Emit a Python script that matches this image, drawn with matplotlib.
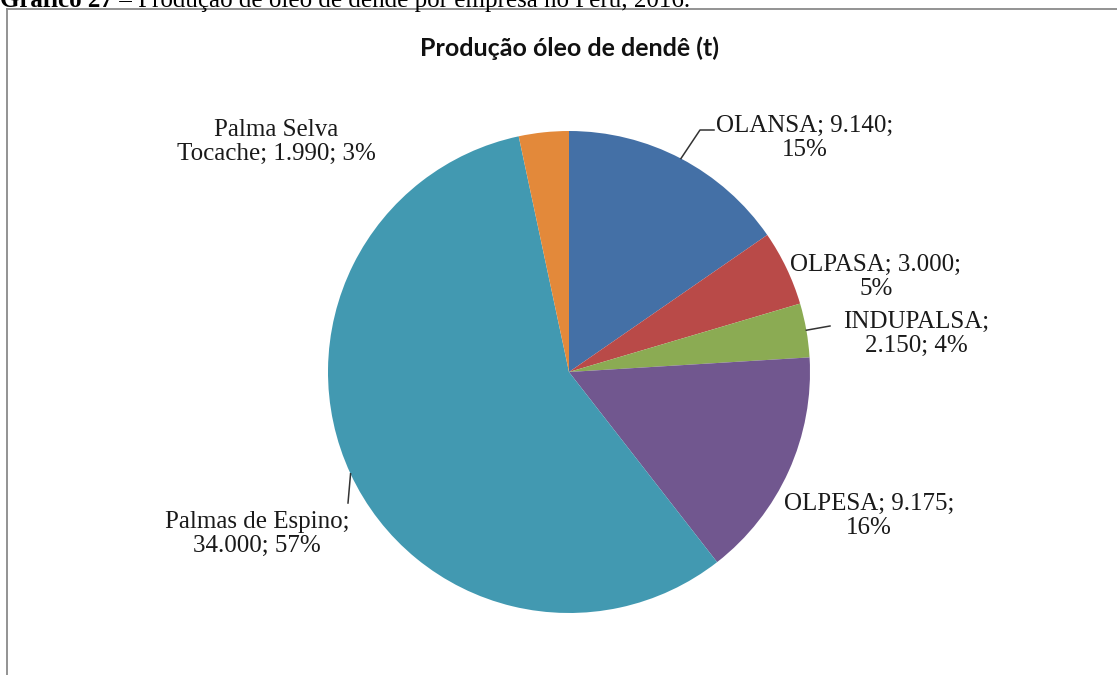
import numpy as np
import matplotlib
matplotlib.use('Agg')
import matplotlib.pyplot as plt
from matplotlib.lines import Line2D

# dados
empresas = ['OLANSA', 'OLPASA', 'INDUPALSA', 'OLPESA', 'Palmas de Espino', 'Palma Selva\nTocache']
producao = [9140, 3000, 2150, 9175, 34000, 1990]
percentual = [15, 5, 4, 16, 57, 3]
cores = ['#4470a6', '#b94a48', '#8bab53', '#71578f', '#4299b1', '#e3893a']
formatos = ['{n}; {v};\n{p}%', '{n}; {v};\n{p}%', '{n};\n{v}; {p}%',
            '{n}; {v};\n{p}%', '{n};\n{v}; {p}%', '{n}; {v}; {p}%']

W, H = 1117, 675
cx, cy, R = 569, 372, 241   # centro e raio da pizza em pixels

fig = plt.figure(figsize=(W / 100, H / 100), dpi=100)
ax = fig.add_axes([(cx - R) / W, (H - cy - R) / H, 2 * R / W, 2 * R / H])

wedges, _ = ax.pie(producao, colors=cores, startangle=90, counterclock=False,
                   radius=1, wedgeprops=dict(linewidth=0))
ax.set_xlim(-1, 1)
ax.set_ylim(-1, 1)
ax.axis('off')


def px(x, y):
    # pixel -> coordenadas de dados do eixo
    return (x - cx) / R, (cy - y) / R


# posição do centro de cada rótulo (pixels)
pos_rotulo = [(805, 138), (876, 277), (916, 334), (869, 516), (257, 534), (276, 142)]
# pontos da linha de chamada (depois da borda da fatia), None = sem linha
chamadas = [[(700, 130), (714, 130)], None, [(830, 326)], None, [(348, 503)], None]

serif = ['Liberation Serif', 'DejaVu Serif']
for i, w in enumerate(wedges):
    v = f'{producao[i]:,}'.replace(',', '.')
    txt = formatos[i].format(n=empresas[i], v=v, p=percentual[i])
    x, y = px(*pos_rotulo[i])
    ax.text(x, y, txt, ha='center', va='center', fontsize=18,
            family=serif, color='#1a1a1a', linespacing=1.12)
    if chamadas[i] is not None:
        ang = np.deg2rad((w.theta1 + w.theta2) / 2)
        xs = [np.cos(ang)] + [px(*p)[0] for p in chamadas[i]]
        ys = [np.sin(ang)] + [px(*p)[1] for p in chamadas[i]]
        ax.plot(xs, ys, color='#333333', lw=1.1, clip_on=False)

# título do gráfico
fig.text(cx / W, 1 - 48 / H, 'Produção óleo de dendê (t)', ha='center', va='center',
         fontsize=18, fontweight='bold', family=['Lato', 'DejaVu Sans'], color='#111111')

# legenda do documento (cortada no topo, como no original)
t1 = fig.text(0, 1 - 7 / H, 'Gráfico 27', ha='left', va='baseline',
              fontsize=18, fontweight='bold', family=serif)
fig.add_artist(plt.Annotation(' – Produção de óleo de dendê por empresa no Peru, 2016.',
                              xy=(1, 0), xycoords=t1, va='bottom', ha='left',
                              fontsize=18, family=serif))

# moldura
fig.add_artist(Line2D([7 / W, 7 / W], [0, 1 - 9 / H], color='#8a8a8a', lw=1.3))
fig.add_artist(Line2D([7 / W, 1], [1 - 9 / H, 1 - 9 / H], color='#8a8a8a', lw=1.3))

fig.savefig('out.png', dpi=100)
